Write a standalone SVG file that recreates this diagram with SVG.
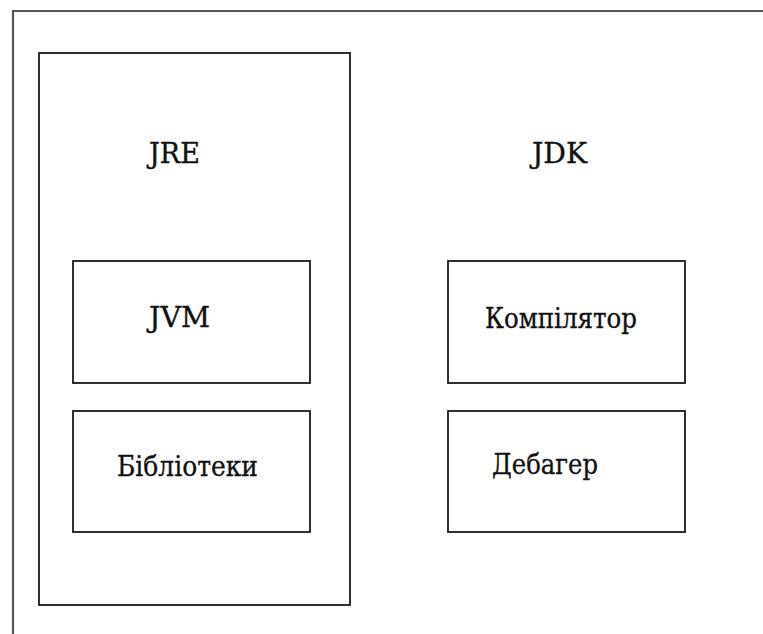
<svg xmlns="http://www.w3.org/2000/svg" width="763" height="634" viewBox="0 0 763 634">
<style>
.box{fill:#fff;stroke:#1a1a1a;stroke-width:1.8}
.frame{fill:none;stroke:#555;stroke-width:2.2}
.lbl{font-family:"DejaVu Serif",serif;font-size:28px;fill:#111;stroke:#111;stroke-width:0.35}
</style>
<rect x="0" y="0" width="763" height="634" fill="#fff"/>
<path class="frame" d="M13 640 V11 H770"/>
<g id="jre">
<rect class="box" x="39" y="53" width="311" height="552"/>
<text class="lbl" x="149" y="163" textLength="51" lengthAdjust="spacingAndGlyphs">JRE</text>
</g>
<g id="jvm">
<rect class="box" x="73" y="261" width="237" height="122"/>
<text class="lbl" x="149" y="327" textLength="61" lengthAdjust="spacingAndGlyphs">JVM</text>
</g>
<g id="libs">
<rect class="box" x="73" y="411" width="237" height="121"/>
<text class="lbl" x="117" y="476" textLength="141" lengthAdjust="spacingAndGlyphs">Бібліотеки</text>
</g>
<g id="jdk">
<text class="lbl" x="532" y="163" textLength="55" lengthAdjust="spacingAndGlyphs">JDK</text>
</g>
<g id="compiler">
<rect class="box" x="448" y="261" width="237" height="122"/>
<text class="lbl" x="485" y="328" textLength="152" lengthAdjust="spacingAndGlyphs">Компілятор</text>
</g>
<g id="debugger">
<rect class="box" x="448" y="411" width="237" height="121"/>
<text class="lbl" x="492" y="474" textLength="106" lengthAdjust="spacingAndGlyphs">Дебагер</text>
</g>
<g id="connectors"></g>
</svg>
